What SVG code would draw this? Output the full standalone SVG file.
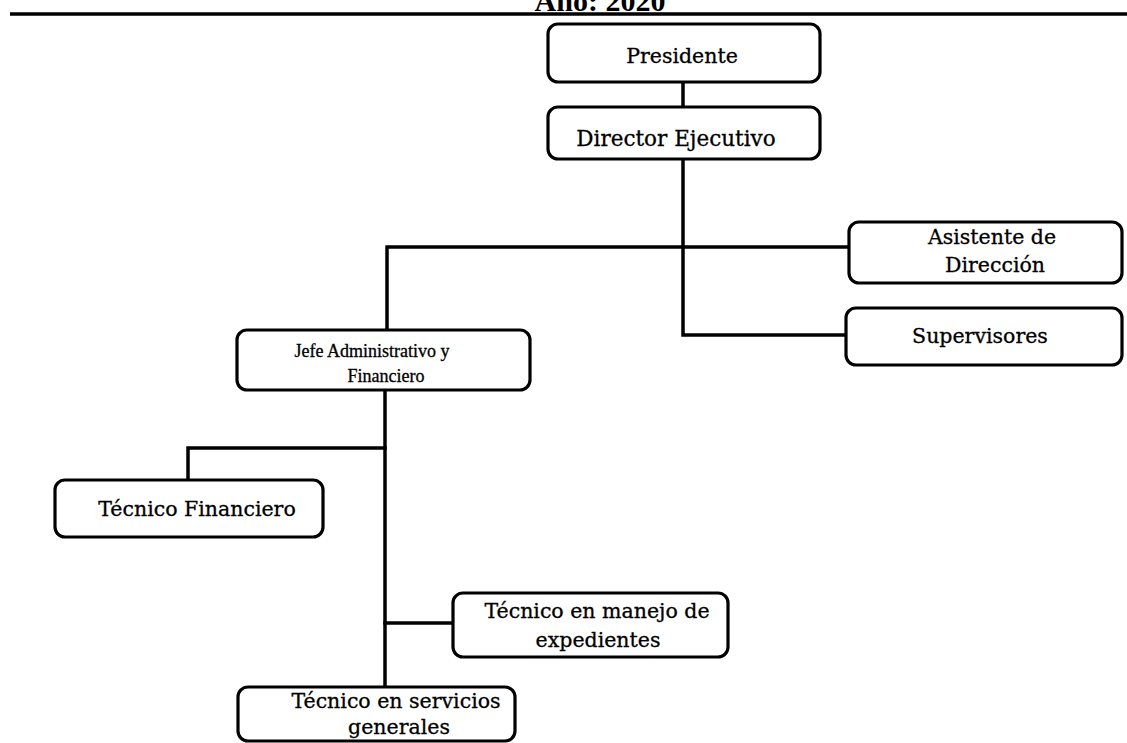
<svg xmlns="http://www.w3.org/2000/svg" width="1127" height="743" viewBox="0 0 1127 743">
<style>
.box{fill:#fff;stroke:#000;stroke-width:3.2}
.ln{fill:none;stroke:#000;stroke-width:3.5;stroke-linecap:square}
.t{font-family:"DejaVu Serif","Liberation Serif",serif;font-size:20.5px;fill:#000;text-anchor:middle;stroke:#000;stroke-width:0.3}
.tj{font-family:"Liberation Serif",serif;font-size:18px;fill:#000;text-anchor:middle;stroke:#000;stroke-width:0.3}
.title{font-family:"Liberation Serif",serif;font-size:30px;font-weight:bold;fill:#000;text-anchor:middle}
</style>
<rect width="1127" height="743" fill="#fff"/>
<text class="title" x="600" y="11">Año: 2020</text>
<line x1="10" y1="14" x2="1127" y2="14" stroke="#000" stroke-width="3.5"/>
<g id="connectors">
<path class="ln" d="M683,82 V107"/>
<path class="ln" d="M683,159 V335 H846"/>
<path class="ln" d="M387,330 V247 H849"/>
<path class="ln" d="M385,390 V687"/>
<path class="ln" d="M188,480 V448 H385"/>
<path class="ln" d="M385,623 H453"/>
</g>
<g id="presidente">
<rect class="box" x="548" y="24" width="272" height="58" rx="10"/>
<text class="t" x="682" y="63">Presidente</text>
</g>
<g id="director">
<rect class="box" x="548" y="107" width="272" height="52" rx="10"/>
<text class="t" x="676" y="146" style="font-size:21.5px">Director Ejecutivo</text>
</g>
<g id="asistente">
<rect class="box" x="849" y="222" width="273" height="61" rx="10"/>
<text class="t" x="992" y="244">Asistente de</text>
<text class="t" x="995" y="272">Dirección</text>
</g>
<g id="supervisores">
<rect class="box" x="846" y="308" width="276" height="57" rx="10"/>
<text class="t" x="980" y="343">Supervisores</text>
</g>
<g id="jefe">
<rect class="box" x="237" y="330" width="293" height="60" rx="10"/>
<text class="tj" x="372" y="357">Jefe Administrativo y</text>
<text class="tj" x="386" y="382">Financiero</text>
</g>
<g id="tecnico-financiero">
<rect class="box" x="55" y="480" width="268" height="57" rx="10"/>
<text class="t" x="197" y="516">Técnico Financiero</text>
</g>
<g id="tecnico-expedientes">
<rect class="box" x="453" y="593" width="275" height="64" rx="10"/>
<text class="t" x="597" y="618">Técnico en manejo de</text>
<text class="t" x="598" y="647">expedientes</text>
</g>
<g id="tecnico-servicios">
<rect class="box" x="238" y="687" width="277" height="54" rx="10"/>
<text class="t" x="396" y="708">Técnico en servicios</text>
<text class="t" x="399" y="734">generales</text>
</g>
</svg>
